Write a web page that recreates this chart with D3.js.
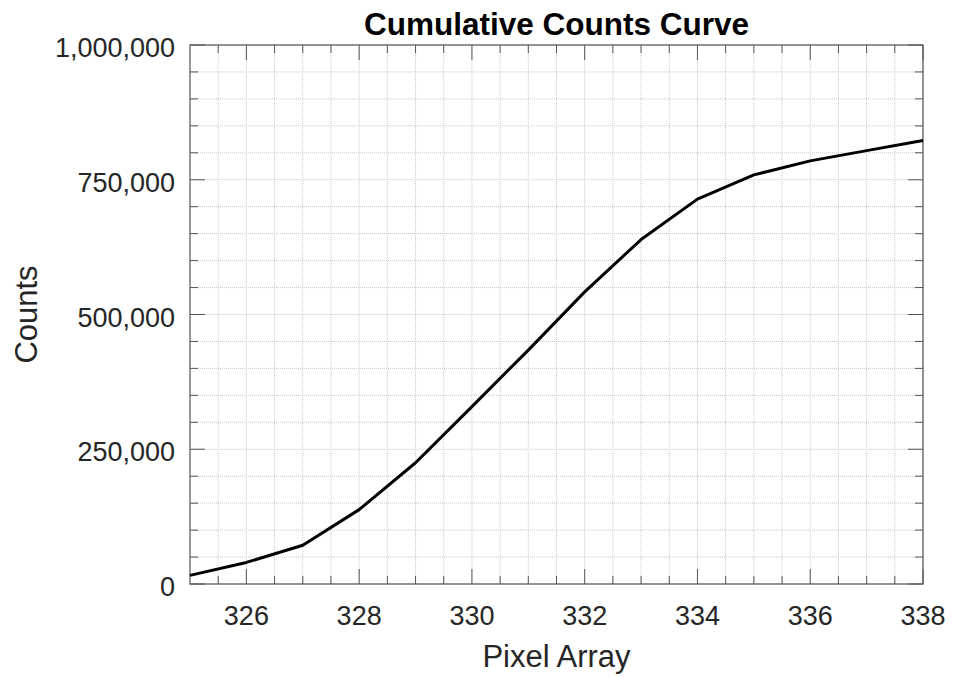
<!DOCTYPE html>
<html>
<head>
<meta charset="utf-8">
<script src="https://cdn.jsdelivr.net/npm/d3@7"></script>
<style>
  body { margin: 0; background: #fff; }
  svg { display: block; font-family: "Liberation Sans", Arial, sans-serif; }
</style>
</head>
<body>
<svg id="chart" width="953" height="677"></svg>
<script>
const pixels = [325, 326, 327, 328, 329, 330, 331, 332, 333, 334, 335, 336, 337, 338];
const counts = [16000, 40000, 72000, 138000, 225000, 329000, 434000, 542000, 639000, 714000, 759000, 785000, 804000, 823000];
const xTickLabels = [326, 328, 330, 332, 334, 336, 338];
const yTickLabels = [0, 250000, 500000, 750000, 1000000];

const width = 953, height = 677;
const margin = { top: 45, right: 30, bottom: 92, left: 190 };
const innerW = 923 - margin.left, innerH = 584 - margin.top;

const svg = d3.select('#chart');
const g = svg.append('g').attr('transform', `translate(${margin.left},${margin.top})`);

const x = d3.scaleLinear().domain([325, 338]).range([0, innerW]);
const y = d3.scaleLinear().domain([0, 1000000]).range([innerH, 0]);

const xMinor = d3.range(325.5, 338, 0.5).filter(v => !xTickLabels.includes(v));
const yMinor = d3.range(50000, 1000000, 50000).filter(v => !yTickLabels.includes(v));

// grid: dotted minor, solid major
g.append('g').selectAll('line').data(xMinor).join('line')
  .attr('x1', d => x(d)).attr('x2', d => x(d)).attr('y1', 0).attr('y2', innerH)
  .attr('stroke', '#c8c8c8').attr('stroke-dasharray', '1,1');
g.append('g').selectAll('line').data(yMinor).join('line')
  .attr('y1', d => y(d)).attr('y2', d => y(d)).attr('x1', 0).attr('x2', innerW)
  .attr('stroke', '#c8c8c8').attr('stroke-dasharray', '1,1');
g.append('g').selectAll('line').data(xTickLabels).join('line')
  .attr('x1', d => x(d)).attr('x2', d => x(d)).attr('y1', 0).attr('y2', innerH)
  .attr('stroke', '#e2e2e2');
g.append('g').selectAll('line').data(yTickLabels).join('line')
  .attr('y1', d => y(d)).attr('y2', d => y(d)).attr('x1', 0).attr('x2', innerW)
  .attr('stroke', '#e2e2e2');

// ticks on all four sides
const axisColor = '#555';
function ticks(vals, len, horizontal) {
  const t = g.append('g').attr('stroke', axisColor).attr('stroke-width', 1);
  if (horizontal) {
    t.selectAll('.b').data(vals).join('line').attr('class', 'b')
      .attr('x1', d => x(d)).attr('x2', d => x(d)).attr('y1', innerH).attr('y2', innerH - len);
    t.selectAll('.t').data(vals).join('line').attr('class', 't')
      .attr('x1', d => x(d)).attr('x2', d => x(d)).attr('y1', 0).attr('y2', len);
  } else {
    t.selectAll('.l').data(vals).join('line').attr('class', 'l')
      .attr('y1', d => y(d)).attr('y2', d => y(d)).attr('x1', 0).attr('x2', len);
    t.selectAll('.r').data(vals).join('line').attr('class', 'r')
      .attr('y1', d => y(d)).attr('y2', d => y(d)).attr('x1', innerW).attr('x2', innerW - len);
  }
}
ticks(xMinor, 8, true);
ticks(xTickLabels, 15, true);
ticks(yMinor, 8, false);
ticks(yTickLabels, 15, false);

g.append('rect').attr('width', innerW).attr('height', innerH)
  .attr('fill', 'none').attr('stroke', axisColor).attr('stroke-width', 1.2);

// curve
const line = d3.line().x((d, i) => x(pixels[i])).y(d => y(d));
g.append('path').datum(counts).attr('d', line)
  .attr('fill', 'none').attr('stroke', '#000').attr('stroke-width', 3)
  .attr('stroke-linejoin', 'round');

// tick labels
const fmt = d3.format(',');
g.append('g').selectAll('text').data(xTickLabels).join('text')
  .attr('x', d => x(d)).attr('y', innerH + 41)
  .attr('text-anchor', 'middle').attr('font-size', 27).attr('fill', '#262626')
  .text(d => d);
g.append('g').selectAll('text').data(yTickLabels).join('text')
  .attr('x', -15).attr('y', d => y(d) + 12)
  .attr('text-anchor', 'end').attr('font-size', 27).attr('fill', '#262626')
  .text(d => fmt(d));

// titles
svg.append('text').attr('x', margin.left + innerW / 2).attr('y', 35)
  .attr('text-anchor', 'middle').attr('font-size', 31.5).attr('font-weight', 'bold')
  .attr('fill', '#000').text('Cumulative Counts Curve');
svg.append('text').attr('x', margin.left + innerW / 2).attr('y', 667)
  .attr('text-anchor', 'middle').attr('font-size', 31).attr('fill', '#262626')
  .text('Pixel Array');
svg.append('text').attr('transform', `translate(37,${margin.top + innerH / 2}) rotate(-90)`)
  .attr('text-anchor', 'middle').attr('font-size', 31).attr('fill', '#262626')
  .text('Counts');
</script>
</body>
</html>
